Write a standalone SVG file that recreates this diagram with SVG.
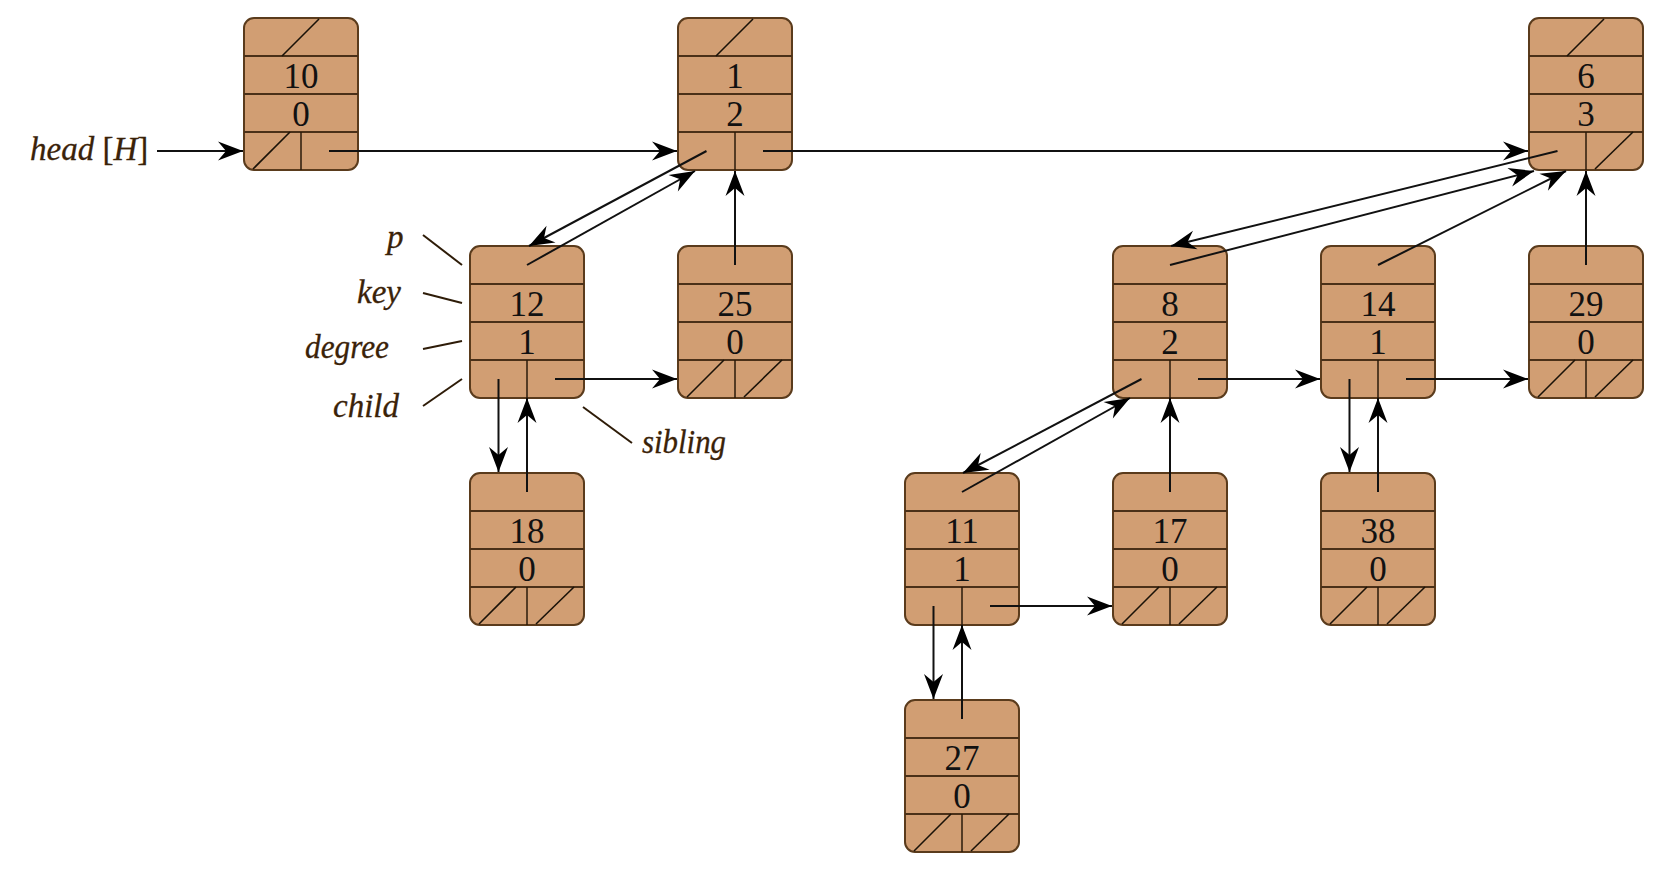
<svg xmlns="http://www.w3.org/2000/svg" xmlns:xlink="http://www.w3.org/1999/xlink" width="1654" height="870" viewBox="0 0 1654 870">
<style>
.box{fill:#D19E73;stroke:#5a3b1c;stroke-width:2}
.dv{stroke:#4a3018;stroke-width:2}
.sp{stroke:#2a1a0a;stroke-width:1.5}
.sl{stroke:#1a1208;stroke-width:1.6}
.num{font-family:"Liberation Serif","Times New Roman",serif;font-size:35px;fill:#111;text-anchor:middle}
.lbl{font-family:"Liberation Serif","Times New Roman",serif;font-style:italic;font-size:33px;fill:#3a2208;stroke:#3a2208;stroke-width:0.3}
.up{font-style:normal}
.c{stroke:#111;stroke-width:2;fill:none;marker-end:url(#ah)}
.ld{stroke:#2e1c08;stroke-width:2}
</style>
<defs>
<marker id="ah" viewBox="-27 -11 29 22" refX="0" refY="0" markerWidth="29" markerHeight="22" markerUnits="userSpaceOnUse" orient="auto">
<path d="M0,0 L-25,-9.5 L-17,0 L-25,9.5 Z" fill="#000"/>
</marker>
<g id="frame">
<rect class="box" x="0" y="0" width="114" height="152" rx="10" ry="10"/>
<line class="dv" x1="0" y1="38" x2="114" y2="38"/>
<line class="dv" x1="0" y1="76" x2="114" y2="76"/>
<line class="dv" x1="0" y1="114" x2="114" y2="114"/>
<line class="sp" x1="57" y1="114" x2="57" y2="152"/>
</g>
<line id="sT" class="sl" x1="38" y1="38" x2="75" y2="1"/>
<line id="sL" class="sl" x1="9" y1="151" x2="46" y2="114"/>
<line id="sR" class="sl" x1="66" y1="151" x2="104" y2="114"/>
</defs>
<rect width="1654" height="870" fill="#fff"/>

<g id="n10" transform="translate(244,18)"><use xlink:href="#frame"/><use xlink:href="#sT"/><use xlink:href="#sL"/>
<text class="num" x="57" y="70">10</text><text class="num" x="57" y="108">0</text></g>
<g id="n1" transform="translate(678,18)"><use xlink:href="#frame"/><use xlink:href="#sT"/>
<text class="num" x="57" y="70">1</text><text class="num" x="57" y="108">2</text></g>
<g id="n6" transform="translate(1529,18)"><use xlink:href="#frame"/><use xlink:href="#sT"/><use xlink:href="#sR"/>
<text class="num" x="57" y="70">6</text><text class="num" x="57" y="108">3</text></g>
<g id="n12" transform="translate(470,246)"><use xlink:href="#frame"/>
<text class="num" x="57" y="70">12</text><text class="num" x="57" y="108">1</text></g>
<g id="n25" transform="translate(678,246)"><use xlink:href="#frame"/><use xlink:href="#sL"/><use xlink:href="#sR"/>
<text class="num" x="57" y="70">25</text><text class="num" x="57" y="108">0</text></g>
<g id="n8" transform="translate(1113,246)"><use xlink:href="#frame"/>
<text class="num" x="57" y="70">8</text><text class="num" x="57" y="108">2</text></g>
<g id="n14" transform="translate(1321,246)"><use xlink:href="#frame"/>
<text class="num" x="57" y="70">14</text><text class="num" x="57" y="108">1</text></g>
<g id="n29" transform="translate(1529,246)"><use xlink:href="#frame"/><use xlink:href="#sL"/><use xlink:href="#sR"/>
<text class="num" x="57" y="70">29</text><text class="num" x="57" y="108">0</text></g>
<g id="n18" transform="translate(470,473)"><use xlink:href="#frame"/><use xlink:href="#sL"/><use xlink:href="#sR"/>
<text class="num" x="57" y="70">18</text><text class="num" x="57" y="108">0</text></g>
<g id="n11" transform="translate(905,473)"><use xlink:href="#frame"/>
<text class="num" x="57" y="70">11</text><text class="num" x="57" y="108">1</text></g>
<g id="n17" transform="translate(1113,473)"><use xlink:href="#frame"/><use xlink:href="#sL"/><use xlink:href="#sR"/>
<text class="num" x="57" y="70">17</text><text class="num" x="57" y="108">0</text></g>
<g id="n38" transform="translate(1321,473)"><use xlink:href="#frame"/><use xlink:href="#sL"/><use xlink:href="#sR"/>
<text class="num" x="57" y="70">38</text><text class="num" x="57" y="108">0</text></g>
<g id="n27" transform="translate(905,700)"><use xlink:href="#frame"/><use xlink:href="#sL"/><use xlink:href="#sR"/>
<text class="num" x="57" y="70">27</text><text class="num" x="57" y="108">0</text></g>

<g id="labels">
<text class="lbl" x="30" y="160">head<tspan class="up"> [</tspan>H<tspan class="up">]</tspan></text>
<text class="lbl" x="387" y="248">p</text>
<text class="lbl" x="357" y="303">key</text>
<text class="lbl" x="305" y="358" textLength="84" lengthAdjust="spacingAndGlyphs">degree</text>
<text class="lbl" x="333" y="417">child</text>
<text class="lbl" x="642" y="453" textLength="84" lengthAdjust="spacingAndGlyphs">sibling</text>
<line class="ld" x1="423" y1="235" x2="462" y2="265"/>
<line class="ld" x1="423" y1="293" x2="462" y2="303"/>
<line class="ld" x1="423" y1="349" x2="462" y2="341"/>
<line class="ld" x1="423" y1="406" x2="462" y2="379"/>
<line class="ld" x1="583" y1="407" x2="632" y2="443"/>
</g>

<g id="connectors">
<line class="c" x1="157" y1="151" x2="243" y2="151"/>
<line class="c" x1="329" y1="151" x2="677" y2="151"/>
<line class="c" x1="763" y1="151" x2="1528" y2="151"/>
<line class="c" x1="555" y1="379" x2="677" y2="379"/>
<line class="c" x1="1198" y1="379" x2="1320" y2="379"/>
<line class="c" x1="1406" y1="379" x2="1528" y2="379"/>
<line class="c" x1="990" y1="606" x2="1112" y2="606"/>

<line class="c" x1="706.5" y1="151" x2="529" y2="246"/>
<line class="c" x1="1557.5" y1="151" x2="1171" y2="246"/>
<line class="c" x1="498.5" y1="379" x2="498.5" y2="472"/>
<line class="c" x1="1141.5" y1="379" x2="963" y2="473"/>
<line class="c" x1="1349.5" y1="379" x2="1349.5" y2="472"/>
<line class="c" x1="933.5" y1="606" x2="933.5" y2="699"/>

<line class="c" x1="527" y1="265" x2="695" y2="171"/>
<line class="c" x1="735" y1="265" x2="735" y2="171"/>
<line class="c" x1="1170" y1="265" x2="1534" y2="171"/>
<line class="c" x1="1378" y1="265" x2="1566" y2="171"/>
<line class="c" x1="1586" y1="265" x2="1586" y2="171"/>
<line class="c" x1="527" y1="492" x2="527" y2="398"/>
<line class="c" x1="962" y1="492" x2="1130" y2="398"/>
<line class="c" x1="1170" y1="492" x2="1170" y2="398"/>
<line class="c" x1="1378" y1="492" x2="1378" y2="398"/>
<line class="c" x1="962" y1="719" x2="962" y2="625"/>
</g>
</svg>
